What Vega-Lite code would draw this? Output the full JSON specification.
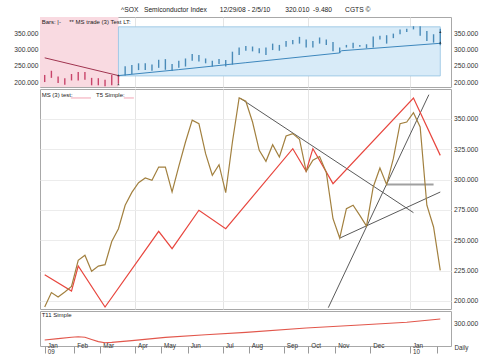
{
  "$schema": "https://vega.github.io/schema/vega-lite/v6.json",
  "background": "white",
  "padding": {"left": 13, "top": 6, "right": 3, "bottom": 1},
  "title": {"text": "^SOX\u00a0\u00a0\u00a0Semiconductor Index\u00a0\u00a0\u00a0\u00a0\u00a0\u00a0\u00a012/29/08 - 2/5/10\u00a0\u00a0\u00a0\u00a0\u00a0\u00a0\u00a0\u00a0320.010\u00a0\u00a0-9.480\u00a0\u00a0\u00a0\u00a0\u00a0\u00a0\u00a0CGTS ©", "fontSize": 6.7, "font": "Liberation Sans", "fontWeight": "normal", "color": "#222", "anchor": "middle", "offset": 3},
  "spacing": 0,
  "config": {
    "view": {"stroke": "#a8a8a8", "strokeWidth": 1},
    "font": "Liberation Sans",
    "axis": {"labelFont": "Liberation Sans", "labelFontSize": 6.7, "labelColor": "#333", "domain": false, "ticks": false, "gridColor": "#ececec", "title": null}
  },
  "datasets": {
    "bars": [{"i":0,"lo":200,"hi":222},{"i":1,"lo":213,"hi":235},{"i":2,"lo":197,"hi":217},{"i":3,"lo":192,"hi":212},{"i":4,"lo":205,"hi":225},{"i":5,"lo":205,"hi":231},{"i":6,"lo":207,"hi":231},{"i":7,"lo":190,"hi":213},{"i":8,"lo":190,"hi":212},{"i":9,"lo":187,"hi":207},{"i":10,"lo":190,"hi":222},{"i":11,"lo":195,"hi":220},{"i":12,"lo":220,"hi":249},{"i":13,"lo":225,"hi":253},{"i":14,"lo":237,"hi":258},{"i":15,"lo":237,"hi":258},{"i":16,"lo":235,"hi":254},{"i":17,"lo":244,"hi":269},{"i":18,"lo":238,"hi":271},{"i":19,"lo":234,"hi":256},{"i":20,"lo":244,"hi":266},{"i":21,"lo":248,"hi":273},{"i":22,"lo":266,"hi":287},{"i":23,"lo":264,"hi":284},{"i":24,"lo":258,"hi":273},{"i":25,"lo":248,"hi":266},{"i":26,"lo":256,"hi":271},{"i":27,"lo":248,"hi":268},{"i":28,"lo":254,"hi":294},{"i":29,"lo":284,"hi":307},{"i":30,"lo":297,"hi":312},{"i":31,"lo":295,"hi":310},{"i":32,"lo":289,"hi":305},{"i":33,"lo":284,"hi":307},{"i":34,"lo":299,"hi":319},{"i":35,"lo":297,"hi":315},{"i":36,"lo":309,"hi":327},{"i":37,"lo":317,"hi":330},{"i":38,"lo":319,"hi":340},{"i":39,"lo":307,"hi":332},{"i":40,"lo":307,"hi":327},{"i":41,"lo":319,"hi":338},{"i":42,"lo":315,"hi":332},{"i":43,"lo":295,"hi":324},{"i":44,"lo":289,"hi":307},{"i":45,"lo":307,"hi":315},{"i":46,"lo":305,"hi":322},{"i":47,"lo":309,"hi":315},{"i":48,"lo":305,"hi":317},{"i":49,"lo":307,"hi":341},{"i":50,"lo":332,"hi":343},{"i":51,"lo":319,"hi":345},{"i":52,"lo":336,"hi":350},{"i":53,"lo":348,"hi":363},{"i":54,"lo":355,"hi":365},{"i":55,"lo":363,"hi":373},{"i":56,"lo":343,"hi":373},{"i":57,"lo":327,"hi":358},{"i":58,"lo":322,"hi":348},{"i":59,"lo":314,"hi":365}],
    "pk": [{"i":0,"v":275},{"i":11,"v":220}],
    "bl": [{"i":11,"v":220},{"i":20,"v":238.5},{"i":30,"v":260},{"i":43.9,"v":290},{"i":44.3,"v":297},{"i":59,"v":320}],
    "marks": [{"i":11,"v":220},{"i":11,"v":192},{"i":59,"v":354},{"i":59,"v":321}],
    "ms": [{"i":0,"v":195},{"i":1,"v":206.9},{"i":2,"v":203.3},{"i":3,"v":207.4},{"i":4,"v":212},{"i":5,"v":233.5},{"i":6,"v":237.7},{"i":7,"v":224.5},{"i":8,"v":228.8},{"i":9,"v":229.9},{"i":10,"v":249},{"i":11,"v":259.6},{"i":12,"v":278.9},{"i":13,"v":289.5},{"i":14,"v":297.5},{"i":15,"v":301.4},{"i":16,"v":299.5},{"i":17,"v":310.4},{"i":18,"v":310.4},{"i":19,"v":289.8},{"i":20,"v":311},{"i":21,"v":331},{"i":22,"v":349},{"i":23,"v":346.1},{"i":24,"v":321.4},{"i":25,"v":303.6},{"i":26,"v":312.3},{"i":27,"v":289.3},{"i":28,"v":331},{"i":29,"v":367.3},{"i":30,"v":364.6},{"i":31,"v":347.5},{"i":32,"v":324.2},{"i":33,"v":315.1},{"i":34,"v":328.8},{"i":35,"v":318.7},{"i":36,"v":336},{"i":37,"v":337.9},{"i":38,"v":333.3},{"i":39,"v":306.9},{"i":40,"v":316},{"i":41,"v":319},{"i":42,"v":306},{"i":43,"v":267.8},{"i":44,"v":251.9},{"i":45,"v":276.1},{"i":46,"v":278.9},{"i":47,"v":270.6},{"i":48,"v":261.8},{"i":49,"v":294},{"i":50,"v":309.6},{"i":51,"v":295.9},{"i":52,"v":317.3},{"i":53,"v":346.1},{"i":54,"v":347.5},{"i":55,"v":355.2},{"i":56,"v":343.4},{"i":57,"v":278.9},{"i":58,"v":261},{"i":59,"v":225.3}],
    "t5": [{"i":0,"v":221.7},{"i":4,"v":208.2},{"i":5,"v":228.8},{"i":9,"v":195},{"i":17,"v":257.4},{"i":19,"v":243.1},{"i":23,"v":274.8},{"i":27,"v":259.6},{"i":37,"v":325.5},{"i":39,"v":306.9},{"i":40,"v":325.5},{"i":43,"v":296.7},{"i":55,"v":367.3},{"i":59,"v":320}],
    "tl": [{"g":"a","i":29.1,"v":367.3},{"g":"a","i":55,"v":272.8},{"g":"b","i":42.3,"v":194.5},{"g":"b","i":57.3,"v":370},{"g":"c","i":44.04,"v":251.9},{"g":"c","i":59,"v":289.8}],
    "hz": [{"i":51,"v":295.9},{"i":58,"v":295.9}],
    "t11": [{"i":0,"v":215},{"i":2,"v":222},{"i":4,"v":229},{"i":5,"v":231},{"i":6,"v":229},{"i":7,"v":218},{"i":8,"v":207},{"i":9,"v":201},{"i":10,"v":203},{"i":13,"v":212},{"i":18,"v":228},{"i":24,"v":241},{"i":30,"v":253},{"i":39,"v":275},{"i":47,"v":290},{"i":54,"v":304},{"i":59,"v":320}]
  },
  "vconcat": [
    {
      "width": 411, "height": 70,
      "resolve": {"scale": {"y": "independent"}},
      "layer": [
        {"data": {"values": [{}]}, "mark": {"type": "rect", "fill": "#f9dae1"},
         "encoding": {
           "x": {"datum": -0.7, "type": "quantitative", "scale": {"domain": [-0.7, 60.6], "nice": false, "zero": false}, "axis": {"values": [13.47, 26.55, 39.31, 54.48], "grid": true, "gridColor": "#e4e4e4", "labels": false, "ticks": false, "domain": false, "title": null}},
           "x2": {"datum": 11},
           "y": {"datum": 184.7, "type": "quantitative", "scale": {"domain": [184.7, 401.4], "nice": false, "zero": false}, "axis": {"orient": "left", "values": [200, 250, 300, 350], "format": ".3f", "grid": false, "labelPadding": 2}},
           "y2": {"datum": 401.4}}},
        {"data": {"values": [{}]}, "mark": {"type": "rect", "fill": "#d8ebf8", "stroke": "#92c2e2", "strokeWidth": 0.8},
         "encoding": {
           "x": {"datum": 11, "type": "quantitative", "scale": {"domain": [-0.7, 60.6], "nice": false, "zero": false}},
           "x2": {"datum": 59},
           "y": {"datum": 219, "type": "quantitative", "scale": {"domain": [184.7, 401.4], "nice": false, "zero": false}, "axis": null},
           "y2": {"datum": 371}}},
        {"data": {"name": "bars"}, "mark": {"type": "rule", "strokeWidth": 1.4},
         "encoding": {
           "x": {"field": "i", "type": "quantitative", "scale": {"domain": [-0.7, 60.6], "nice": false, "zero": false}},
           "y": {"field": "lo", "type": "quantitative", "scale": {"domain": [184.7, 401.4], "nice": false, "zero": false}, "axis": {"orient": "right", "values": [200, 250, 300, 350], "format": ".3f", "grid": false, "labelPadding": 2.5}},
           "y2": {"field": "hi"},
           "color": {"condition": {"test": "datum.i <= 11", "value": "#c8446a"}, "value": "#4a8bb8"}}},
        {"data": {"name": "pk"}, "mark": {"type": "line", "color": "#a0344f", "strokeWidth": 1},
         "encoding": {
           "x": {"field": "i", "type": "quantitative", "scale": {"domain": [-0.7, 60.6], "nice": false, "zero": false}},
           "y": {"field": "v", "type": "quantitative", "scale": {"domain": [184.7, 401.4], "nice": false, "zero": false}, "axis": null}}},
        {"data": {"name": "bl"}, "mark": {"type": "line", "color": "#3d87bd", "strokeWidth": 1},
         "encoding": {
           "x": {"field": "i", "type": "quantitative", "scale": {"domain": [-0.7, 60.6], "nice": false, "zero": false}},
           "y": {"field": "v", "type": "quantitative", "scale": {"domain": [184.7, 401.4], "nice": false, "zero": false}, "axis": null}}},
        {"data": {"name": "marks"}, "mark": {"type": "point", "filled": true, "color": "#111", "size": 6, "shape": "triangle"},
         "encoding": {
           "x": {"field": "i", "type": "quantitative", "scale": {"domain": [-0.7, 60.6], "nice": false, "zero": false}},
           "y": {"field": "v", "type": "quantitative", "scale": {"domain": [184.7, 401.4], "nice": false, "zero": false}, "axis": null}}},
        {"data": {"values": [{}]}, "mark": {"type": "text", "text": "Bars: |-\u00a0\u00a0\u00a0\u00a0\u00a0** MS trade (3) Test LT:", "align": "left", "baseline": "middle", "fontSize": 6, "color": "#222"},
         "encoding": {
           "x": {"datum": -0.45, "type": "quantitative", "scale": {"domain": [-0.7, 60.6], "nice": false, "zero": false}},
           "y": {"datum": 387, "type": "quantitative", "scale": {"domain": [184.7, 401.4], "nice": false, "zero": false}, "axis": null}}}
      ]
    },
    {
      "width": 411, "height": 220,
      "layer": [
        {"data": {"name": "tl"}, "mark": {"type": "line", "color": "#5a5a5a", "strokeWidth": 1, "clip": true},
         "encoding": {
           "x": {"field": "i", "type": "quantitative", "scale": {"domain": [-0.7, 60.6], "nice": false, "zero": false}, "axis": {"values": [13.47, 26.55, 39.31, 54.48], "grid": true, "gridColor": "#e4e4e4", "labels": false, "ticks": false, "domain": false, "title": null}},
           "y": {"field": "v", "type": "quantitative", "scale": {"domain": [193.4, 374.7], "nice": false, "zero": false}, "axis": {"orient": "right", "values": [200, 225, 250, 275, 300, 325, 350], "format": ".3f", "grid": true, "gridColor": "#ececec", "labelPadding": 2.5, "title": null}},
           "detail": {"field": "g"}}},
        {"data": {"name": "hz"}, "mark": {"type": "line", "color": "#a0a0a0", "strokeWidth": 2},
         "encoding": {
           "x": {"field": "i", "type": "quantitative", "scale": {"domain": [-0.7, 60.6], "nice": false, "zero": false}, "axis": {"values": [13.47, 26.55, 39.31, 54.48], "grid": true, "gridColor": "#e4e4e4", "labels": false, "ticks": false, "domain": false, "title": null}},
           "y": {"field": "v", "type": "quantitative", "scale": {"domain": [193.4, 374.7], "nice": false, "zero": false}, "axis": {"orient": "right", "values": [200, 225, 250, 275, 300, 325, 350], "format": ".3f", "grid": true, "gridColor": "#ececec", "labelPadding": 2.5, "title": null}}}},
        {"data": {"name": "t5"}, "mark": {"type": "line", "color": "#e8463e", "strokeWidth": 1.2},
         "encoding": {
           "x": {"field": "i", "type": "quantitative", "scale": {"domain": [-0.7, 60.6], "nice": false, "zero": false}, "axis": {"values": [13.47, 26.55, 39.31, 54.48], "grid": true, "gridColor": "#e4e4e4", "labels": false, "ticks": false, "domain": false, "title": null}},
           "y": {"field": "v", "type": "quantitative", "scale": {"domain": [193.4, 374.7], "nice": false, "zero": false}, "axis": {"orient": "right", "values": [200, 225, 250, 275, 300, 325, 350], "format": ".3f", "grid": true, "gridColor": "#ececec", "labelPadding": 2.5, "title": null}}}},
        {"data": {"name": "ms"}, "mark": {"type": "line", "color": "#a2803f", "strokeWidth": 1.2, "clip": true},
         "encoding": {
           "x": {"field": "i", "type": "quantitative", "scale": {"domain": [-0.7, 60.6], "nice": false, "zero": false}, "axis": {"values": [13.47, 26.55, 39.31, 54.48], "grid": true, "gridColor": "#e4e4e4", "labels": false, "ticks": false, "domain": false, "title": null}},
           "y": {"field": "v", "type": "quantitative", "scale": {"domain": [193.4, 374.7], "nice": false, "zero": false}, "axis": {"orient": "right", "values": [200, 225, 250, 275, 300, 325, 350], "format": ".3f", "grid": true, "gridColor": "#ececec", "labelPadding": 2.5, "title": null}}}},
        {"data": {"values": [{"t": "MS (3) test:", "i": -0.45}, {"t": "T5 Simple:", "i": 7.65}]}, "mark": {"type": "text", "align": "left", "baseline": "middle", "fontSize": 6, "color": "#222"},
         "encoding": {
           "text": {"field": "t"},
           "x": {"field": "i", "type": "quantitative", "scale": {"domain": [-0.7, 60.6], "nice": false, "zero": false}, "axis": {"values": [13.47, 26.55, 39.31, 54.48], "grid": true, "gridColor": "#e4e4e4", "labels": false, "ticks": false, "domain": false, "title": null}},
           "y": {"datum": 369.5, "type": "quantitative", "scale": {"domain": [193.4, 374.7], "nice": false, "zero": false}, "axis": {"orient": "right", "values": [200, 225, 250, 275, 300, 325, 350], "format": ".3f", "grid": true, "gridColor": "#ececec", "labelPadding": 2.5, "title": null}}}},
        {"data": {"values": [{"a": 3.9, "b": 6.9}, {"a": 11.8, "b": 13.3}]}, "mark": {"type": "rule", "color": "#f2a3b3", "strokeWidth": 1},
         "encoding": {
           "x": {"field": "a", "type": "quantitative", "scale": {"domain": [-0.7, 60.6], "nice": false, "zero": false}, "axis": {"values": [13.47, 26.55, 39.31, 54.48], "grid": true, "gridColor": "#e4e4e4", "labels": false, "ticks": false, "domain": false, "title": null}},
           "x2": {"field": "b"},
           "y": {"datum": 367.3, "type": "quantitative", "scale": {"domain": [193.4, 374.7], "nice": false, "zero": false}, "axis": {"orient": "right", "values": [200, 225, 250, 275, 300, 325, 350], "format": ".3f", "grid": true, "gridColor": "#ececec", "labelPadding": 2.5, "title": null}}}}
      ]
    },
    {
      "width": 411, "height": 35,
      "layer": [
        {"data": {"name": "t11"}, "mark": {"type": "line", "color": "#e2574c", "strokeWidth": 1.1},
         "encoding": {
           "x": {"field": "i", "type": "quantitative", "scale": {"domain": [-0.7, 60.6], "nice": false, "zero": false},
             "axis": {"values": [0, 4.41, 8.29, 13.47, 17.35, 21.33, 26.55, 30.43, 35.65, 39.31, 43.34, 48.56, 54.48, 58.51],
               "labelExpr": "datum.value < 2 ? ['Jan','09'] : datum.value < 6 ? 'Feb' : datum.value < 10 ? 'Mar' : datum.value < 15 ? 'Apr' : datum.value < 19 ? 'May' : datum.value < 24 ? 'Jun' : datum.value < 28 ? 'Jul' : datum.value < 33 ? 'Aug' : datum.value < 37 ? 'Sep' : datum.value < 41 ? 'Oct' : datum.value < 46 ? 'Nov' : datum.value < 51 ? 'Dec' : datum.value < 56 ? ['Jan','10'] : ''",
               "labelAlign": "left", "labelBaseline": "top", "labelOffset": 2.5, "labelPadding": -11, "labelLineHeight": 6.5, "labelFontSize": 6.3,
               "ticks": true, "tickSize": 7, "tickColor": "#999", "domain": false, "grid": false,
               "labelFlush": false, "labelOverlap": false, "labelBound": false,
               "title": "Daily", "titleFontSize": 6.3, "titleFontWeight": "normal", "titleColor": "#333", "titleAlign": "left", "titleBaseline": "middle", "titleAnchor": "start", "titleX": 414, "titleY": 1}},
           "y": {"field": "v", "type": "quantitative", "scale": {"domain": [185, 360], "nice": false, "zero": false}, "axis": {"orient": "right", "values": [300], "format": ".3f", "grid": false, "labelPadding": 2.5, "title": null}}}},
        {"data": {"values": [{"t": "T11 Simple", "i": -0.45}]}, "mark": {"type": "text", "align": "left", "baseline": "middle", "fontSize": 6, "color": "#222"},
         "encoding": {
           "text": {"field": "t"},
           "x": {"field": "i", "type": "quantitative", "scale": {"domain": [-0.7, 60.6], "nice": false, "zero": false},
             "axis": {"values": [0, 4.41, 8.29, 13.47, 17.35, 21.33, 26.55, 30.43, 35.65, 39.31, 43.34, 48.56, 54.48, 58.51],
               "labelExpr": "datum.value < 2 ? ['Jan','09'] : datum.value < 6 ? 'Feb' : datum.value < 10 ? 'Mar' : datum.value < 15 ? 'Apr' : datum.value < 19 ? 'May' : datum.value < 24 ? 'Jun' : datum.value < 28 ? 'Jul' : datum.value < 33 ? 'Aug' : datum.value < 37 ? 'Sep' : datum.value < 41 ? 'Oct' : datum.value < 46 ? 'Nov' : datum.value < 51 ? 'Dec' : datum.value < 56 ? ['Jan','10'] : ''",
               "labelAlign": "left", "labelBaseline": "top", "labelOffset": 2.5, "labelPadding": -11, "labelLineHeight": 6.5, "labelFontSize": 6.3,
               "ticks": true, "tickSize": 7, "tickColor": "#999", "domain": false, "grid": false,
               "labelFlush": false, "labelOverlap": false, "labelBound": false,
               "title": "Daily", "titleFontSize": 6.3, "titleFontWeight": "normal", "titleColor": "#333", "titleAlign": "left", "titleBaseline": "middle", "titleAnchor": "start", "titleX": 414, "titleY": 1}},
           "y": {"datum": 341.5, "type": "quantitative", "scale": {"domain": [185, 360], "nice": false, "zero": false}, "axis": {"orient": "right", "values": [300], "format": ".3f", "grid": false, "labelPadding": 2.5, "title": null}}}}
      ]
    }
  ]
}
